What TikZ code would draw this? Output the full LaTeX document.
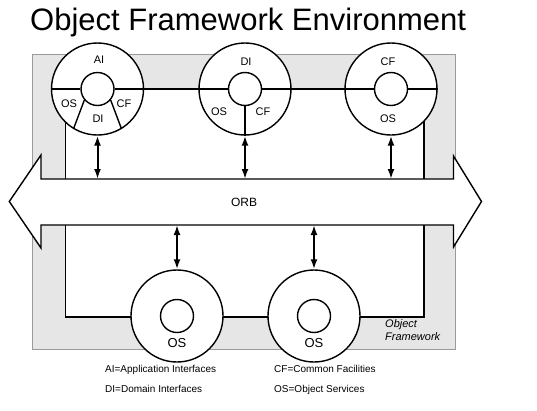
\documentclass[tikz,border=0pt]{standalone}
\usepackage{fontspec}
\setmainfont{Liberation Sans}
\usetikzlibrary{arrows.meta,positioning}
\definecolor{OFGray}{HTML}{E6E6E6}
\definecolor{OFEdge}{HTML}{9A9A9A}

\tikzset{
  ring/.style={circle, draw, fill=white, line width=1.4pt, minimum size=92pt, inner sep=0pt},
  hub/.style={circle, draw, fill=white, line width=1.4pt, minimum size=33pt, inner sep=0pt},
  tag/.style={font=\fontsize{11}{13}\selectfont, inner sep=0pt},
  legend/.style={font=\fontsize{10}{12}\selectfont, inner sep=0pt, anchor=base west},
  link/.style={line width=2pt, {Latex[length=10pt,width=7pt]}-{Latex[length=10pt,width=7pt]}},
}

\begin{document}
\begin{tikzpicture}[x=1pt,y=-1pt]
\useasboundingbox (0,0) rectangle (537,410);
\node[anchor=base west, inner sep=0pt, font=\fontsize{31}{37}\selectfont] (title) at (30,30) {Object Framework Environment};
\draw[OFEdge, fill=OFGray, line width=1pt] (32,54) rectangle (455.5,349);
\draw[line width=1.6pt, fill=white] (65.5,89) rectangle (424,317);
\coordinate (shafttop) at (0,179);
\coordinate (shaftbot) at (0,225);
\draw[line width=1.4pt, fill=white] (41,179) -- (453.5,179) -- (453.5,156) -- (481.5,201.5) -- (453.5,247) -- (453.5,225)
  -- (41,225) -- (41,248) -- (9.3,201.5) -- (41,155) -- cycle;
\node[tag, font=\fontsize{12}{14}\selectfont] (orb) at (244,202) {ORB};

\node[ring] (ai) at (97.5,89) {};
\node[hub] (aihub) at (ai) {};
\node[ring] (di) at (245,89) {};
\node[hub] (dihub) at (di) {};
\node[ring] (cf) at (391,89) {};
\node[hub] (cfhub) at (cf) {};
\node[ring] (osa) at (177,316) {};
\node[hub] (osahub) at (osa) {};
\node[ring] (osb) at (314,316) {};
\node[hub] (osbhub) at (osb) {};

\foreach \r in {ai,di,cf}
  \draw[line width=1.4pt] (\r.west) -- (\r hub.west) (\r hub.east) -- (\r.east);
\draw[line width=1.4pt] (aihub.-140) -- (ai.-121) (aihub.-40) -- (ai.-59);
\draw[line width=1.4pt] (dihub.south) -- (di.south);

\foreach \r in {ai,di,cf}
  \draw[link] (\r.south) -- (\r.south |- shafttop);
\foreach \r in {osa,osb}
  \draw[link] (\r.north |- shaftbot) -- (\r.north);

\node[tag] (aiAI) at (99,59.5) {AI};
\node[tag] (aiOS) at (69,104) {OS};
\node[tag] (aiCF) at (124,104) {CF};
\node[tag] (aiDI) at (98,118.5) {DI};
\node[tag] (diDI) at (246,62) {DI};
\node[tag] (diOS) at (219,112) {OS};
\node[tag] (diCF) at (263,112) {CF};
\node[tag] (cfCF) at (388,62) {CF};
\node[tag] (cfOS) at (388,119) {OS};
\node[tag, font=\fontsize{13}{15}\selectfont] (osaOS) at (177,343) {OS};
\node[tag, font=\fontsize{13}{15}\selectfont] (osbOS) at (314,343) {OS};

\node[anchor=north west, inner sep=0pt, align=left, font=\itshape\fontsize{11}{13.5}\selectfont] (frame) at (385,319) {Object\\Framework};

\node[legend] (lgAI) at (105,372.5) {AI=Application Interfaces};
\node[legend] (lgDI) at (105,392) {DI=Domain Interfaces};
\node[legend] (lgCF) at (274,372.5) {CF=Common Facilities};
\node[legend] (lgOS) at (274,392) {OS=Object Services};
\end{tikzpicture}
\end{document}
